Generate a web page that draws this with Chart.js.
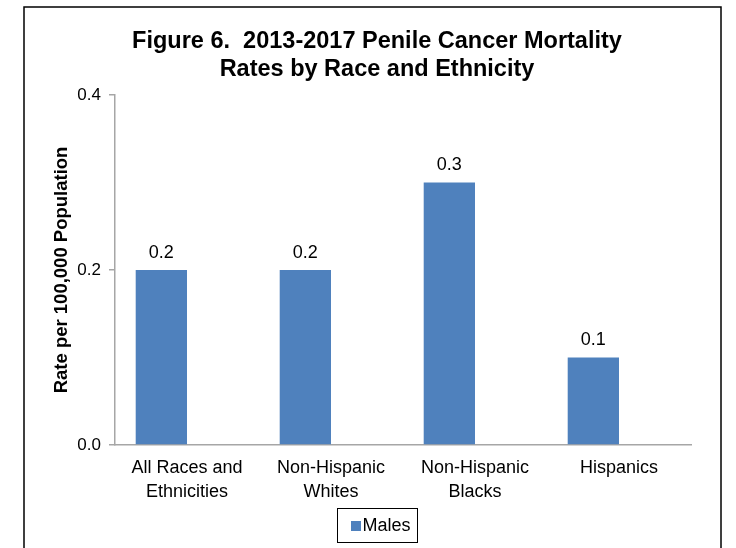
<!DOCTYPE html>
<html>
<head>
<meta charset="utf-8">
<script src="https://cdn.jsdelivr.net/npm/chart.js@4/dist/chart.umd.min.js"></script>
<style>
  html, body { margin: 0; padding: 0; background: #fff; }
  #wrap { position: relative; width: 736px; height: 548px; }
</style>
</head>
<body>
<div id="wrap"><canvas id="c" width="736" height="548"></canvas></div>
<script>
const categories = [["All Races and", "Ethnicities"], ["Non-Hispanic", "Whites"], ["Non-Hispanic", "Blacks"], ["Hispanics"]];
const malesRates = [0.2, 0.2, 0.3, 0.1];
const placeholderSeries = [null, null, null, null];
const titleLines = ["Figure 6.  2013-2017 Penile Cancer Mortality", "Rates by Race and Ethnicity"];
const yTicks = [0.0, 0.2, 0.4];
const yAxisTitle = "Rate per 100,000 Population";

const FONT = "'Liberation Sans', Arial, sans-serif";
const BAR_COLOR = '#4F81BD';

const framePlugin = {
  id: 'frame',
  beforeDraw(chart) {
    const ctx = chart.ctx;
    ctx.save();
    ctx.fillStyle = '#fff';
    ctx.fillRect(0, 0, chart.width, chart.height);
    ctx.strokeStyle = '#000';
    ctx.lineWidth = 1.5;
    ctx.strokeRect(24, 7, 697, 600);
    ctx.restore();
  }
};

const valueLabels = {
  id: 'valueLabels',
  afterDatasetsDraw(chart) {
    const ctx = chart.ctx;
    const meta = chart.getDatasetMeta(0);
    ctx.save();
    ctx.font = '18px ' + FONT;
    ctx.fillStyle = '#000';
    ctx.textAlign = 'center';
    ctx.textBaseline = 'bottom';
    meta.data.forEach((bar, i) => {
      const v = chart.data.datasets[0].data[i];
      if (v == null) return;
      ctx.fillText(v.toFixed(1), bar.x, bar.y - 8);
    });
    ctx.restore();
  }
};

const legendBox = {
  id: 'legendBox',
  afterDraw(chart) {
    const lg = chart.legend;
    if (!lg || !lg.legendHitBoxes || !lg.legendHitBoxes.length) return;
    const hb = lg.legendHitBoxes[0];
    const ctx = chart.ctx;
    const L = Math.round(hb.left), T = Math.round(hb.top);
    ctx.save();
    // marker close to the text, as in the reference
    ctx.fillStyle = BAR_COLOR;
    ctx.fillRect(L + 8, Math.round(hb.top + hb.height / 2 - 5), 10, 10);
    ctx.strokeStyle = '#000';
    ctx.lineWidth = 1;
    ctx.strokeRect(L - 5.5, T - 8.5, Math.round(hb.width) + 13, Math.round(hb.height) + 16);
    ctx.restore();
  }
};

new Chart(document.getElementById('c'), {
  type: 'bar',
  data: {
    labels: categories,
    datasets: [
      { label: 'Males', data: malesRates, backgroundColor: BAR_COLOR, borderWidth: 0,
        categoryPercentage: 0.7125, barPercentage: 1.0 },
      { label: '', data: placeholderSeries, backgroundColor: '#C0504D', borderWidth: 0,
        categoryPercentage: 0.7125, barPercentage: 1.0 }
    ]
  },
  options: {
    responsive: false,
    animation: false,
    devicePixelRatio: 1,
    layout: { padding: { left: 47, right: 29, top: 0, bottom: 3 } },
    plugins: {
      tooltip: { enabled: false },
      title: {
        display: true,
        text: titleLines,
        color: '#000',
        font: { family: FONT, size: 23.5, weight: 'bold', lineHeight: 1.19 },
        padding: { top: 28, bottom: 11 }
      },
      legend: {
        position: 'bottom',
        labels: {
          filter: (item) => item.datasetIndex === 0,
          generateLabels: (chart) => {
            const items = Chart.defaults.plugins.legend.labels.generateLabels(chart);
            return items.map(it => Object.assign(it, { fillStyle: 'rgba(0,0,0,0)', strokeStyle: 'rgba(0,0,0,0)', lineWidth: 0 }));
          },
          color: '#000',
          font: { family: FONT, size: 18 },
          boxWidth: 10, boxHeight: 10,
          padding: 10
        }
      }
    },
    scales: {
      x: {
        grid: { display: false, drawTicks: false },
        border: { display: true, color: '#A6A6A6', width: 1.5 },
        ticks: { color: '#000', font: { family: FONT, size: 18, lineHeight: 1.28 }, padding: 12, maxRotation: 0, autoSkip: false },
        afterFit(s) { s.height = 62; }
      },
      y: {
        min: 0, max: 0.4,
        afterBuildTicks(s) { s.ticks = yTicks.map(v => ({ value: v })); },
        grid: { display: true, drawOnChartArea: false, drawTicks: true, tickLength: 6, color: '#A6A6A6', lineWidth: 1.5 },
        border: { display: true, color: '#A6A6A6', width: 1.5 },
        ticks: { color: '#000', font: { family: FONT, size: 17 }, padding: 8, callback: (v) => Number(v).toFixed(1) },
        title: { display: true, text: yAxisTitle, color: '#000', font: { family: FONT, size: 18.5, weight: 'bold' }, padding: { top: 4, bottom: 0 } },
        afterFit(s) { s.width = 68; }
      },
      spacer: {
        position: 'right',
        display: true,
        grid: { display: false, drawTicks: false },
        border: { display: false },
        ticks: { display: false },
        afterFit(s) { s.width = 16; }
      }
    }
  },
  plugins: [framePlugin, valueLabels, legendBox]
});
</script>
</body>
</html>
